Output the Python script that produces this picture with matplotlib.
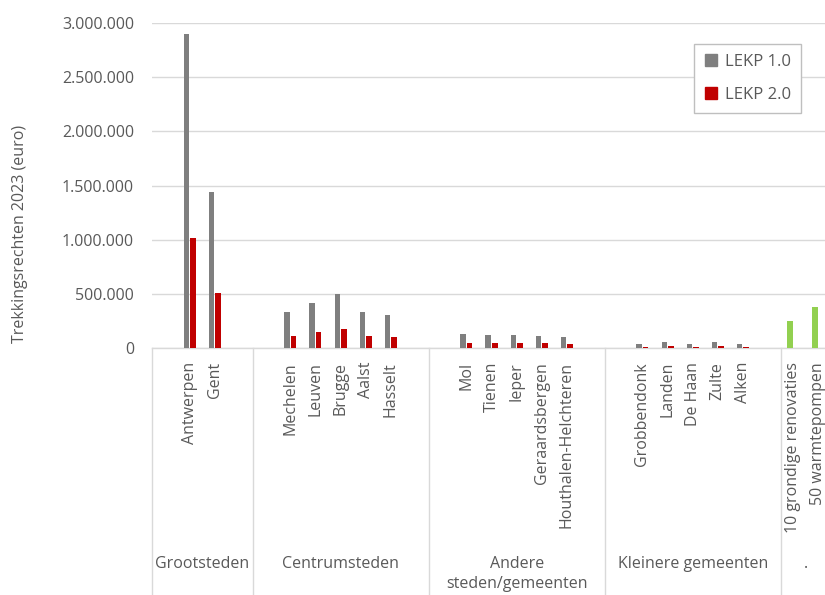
import numpy as np
import matplotlib
matplotlib.use("Agg")
import matplotlib.pyplot as plt
from matplotlib.lines import Line2D
from matplotlib.ticker import FuncFormatter

plt.rcParams['font.family'] = ['Open Sans', 'DejaVu Sans']

nan = np.nan
# Categories (Excel multi-level axis, blank slots kept as "")
categories = ["", "Antwerpen", "Gent", "",
              "", "Mechelen", "Leuven", "Brugge", "Aalst", "Hasselt", "",
              "", "Mol", "Tienen", "Ieper", "Geraardsbergen", "Houthalen-Helchteren", "",
              "", "Grobbendonk", "Landen", "De Haan", "Zulte", "Alken", "",
              "10 grondige renovaties", "50 warmtepompen"]
group_names = ["Grootsteden", "Centrumsteden", "Andere\nsteden/gemeenten",
               "Kleinere gemeenten", "."]
group_sizes = [4, 7, 7, 7, 2]

lekp1 = [nan, 2900000, 1443000, nan,
         nan, 332000, 412000, 498000, 332000, 305000, nan,
         nan, 129000, 123000, 123000, 111000, 99000, nan,
         nan, 34000, 52000, 40000, 52000, 34000, nan,
         245000, 380000]
lekp2 = [nan, 1013000, 505000, nan,
         nan, 111000, 145000, 175000, 111000, 99000, nan,
         nan, 43000, 43000, 43000, 43000, 34000, nan,
         nan, 10000, 18000, 10000, 18000, 10000, nan,
         nan, nan]
series_names = ["LEKP 1.0", "LEKP 2.0"]
yticks = [0, 500000, 1000000, 1500000, 2000000, 2500000, 3000000]

GRAY = "#7f7f7f"
RED = "#c00000"
GREEN = "#92d050"
TXT = "#595959"
GRID = "#d9d9d9"

n = len(categories)
x = np.arange(n)
colors1 = [GREEN if i >= n - 2 else GRAY for i in range(n)]

W, H = 825, 595
fig = plt.figure(figsize=(W / 100, H / 100), dpi=100)
left, right, top, bottom = 152, 831, 23, 348
ax = fig.add_axes([left / W, (H - bottom) / H, (right - left) / W, (bottom - top) / H])

bw = 0.22
ax.bar(x - 0.13, np.nan_to_num(lekp1), width=bw, color=colors1, zorder=3)
ax.bar(x + 0.13, np.nan_to_num(lekp2), width=bw, color=RED, zorder=3)

ax.set_xlim(-0.5, n - 0.5)
ax.set_ylim(0, 3000000)
ax.set_yticks(yticks)
ax.yaxis.set_major_formatter(FuncFormatter(lambda v, p: f"{int(v):,}".replace(",", ".")))
ax.tick_params(axis='y', length=0, pad=13, labelsize=11.5, labelcolor=TXT)
ax.set_xticks(x)
ax.set_xticklabels(categories, rotation=90, va='top', ha='center')
ax.tick_params(axis='x', length=0, pad=10, labelsize=11.5, labelcolor=TXT)

ax.yaxis.grid(True, color=GRID, lw=1, zorder=0)
ax.set_axisbelow(True)
for s in ['top', 'right', 'left']:
    ax.spines[s].set_visible(False)
ax.spines['bottom'].set_color(GRID)
ax.spines['bottom'].set_linewidth(1)

# group separators and labels
tr = ax.get_xaxis_transform()
start = 0
bounds = [-0.5]
for name, size in zip(group_names, group_sizes):
    center = start + (size - 1) / 2
    ax.text(center, -0.64, name, transform=tr, ha='center', va='top',
            fontsize=11.5, color=TXT, linespacing=1.35)
    start += size
    bounds.append(start - 0.5)
for b in bounds[:-1]:
    ax.plot([b, b], [0, -1.0], transform=tr, color=GRID, lw=1, clip_on=False)

fig.text(20 / W, (H - 234) / H, "Trekkingsrechten 2023 (euro)", rotation=90,
         ha='center', va='center', fontsize=11.5, color=TXT)

handles = [Line2D([], [], marker='s', ls='', color=GRAY, markersize=8),
           Line2D([], [], marker='s', ls='', color=RED, markersize=8)]
leg = ax.legend(handles, series_names, loc='upper right',
                bbox_to_anchor=((801 - left) / (right - left), (bottom - 44) / (bottom - top)),
                borderaxespad=0, fancybox=False, framealpha=1, edgecolor="#bfbfbf",
                fontsize=12, labelspacing=1.0, handlelength=0.8, handletextpad=0.45,
                borderpad=0.6)
for t in leg.get_texts():
    t.set_color(TXT)
leg.get_frame().set_linewidth(1)

fig.savefig("out.png", dpi=100)
